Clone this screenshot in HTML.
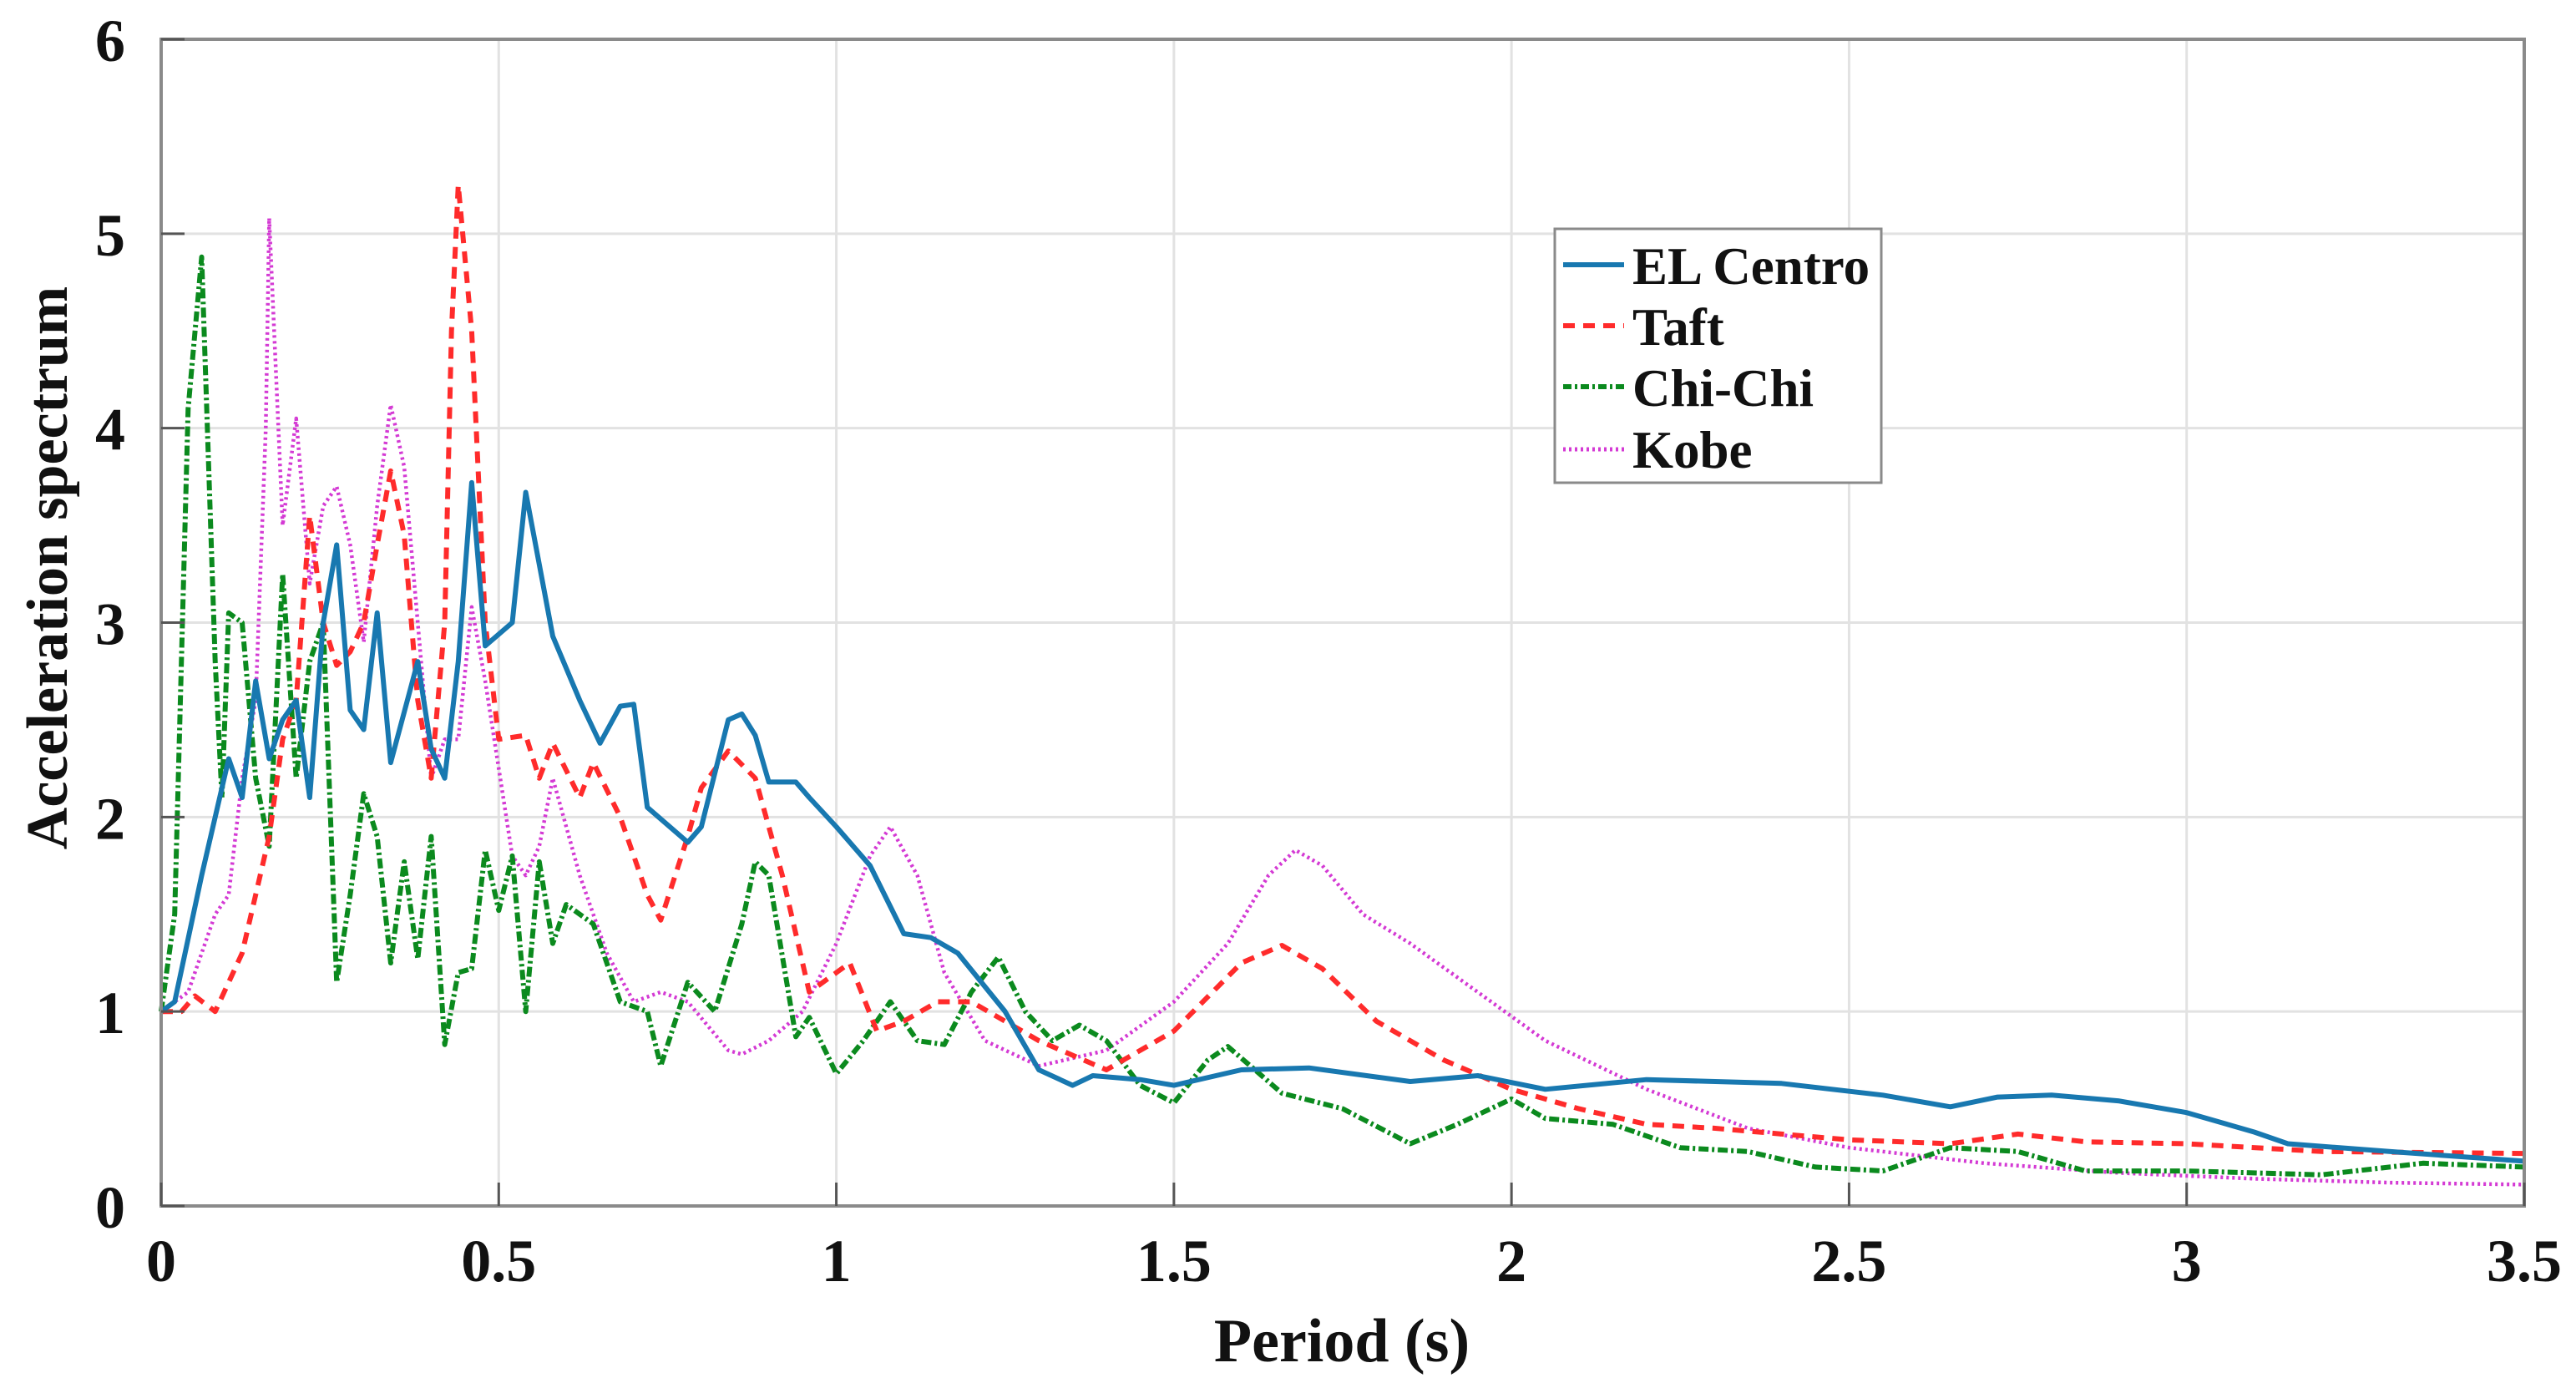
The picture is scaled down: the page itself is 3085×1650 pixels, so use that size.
<!DOCTYPE html>
<html><head><meta charset="utf-8"><style>
html,body{margin:0;padding:0;background:#fff}
svg{display:block}
text{font-family:"Liberation Serif",serif;font-weight:bold;fill:#111}
</style></head><body>
<svg id="chart" width="3085" height="1650" viewBox="0 0 3085 1650" xmlns="http://www.w3.org/2000/svg">
<g id="grid"></g>
<g id="series"></g>
<rect x="193" y="47" width="2830" height="1397" fill="none" stroke="#8a8a8a" stroke-width="4"/>
<g id="ticks"></g>
<text x="1607" y="1630" font-size="74" text-anchor="middle">Period (s)</text>
<text x="0" y="0" font-size="70" text-anchor="middle" transform="translate(80,680) rotate(-90)">Acceleration spectrum</text>
<g>
<rect x="1862" y="274" width="391" height="304" fill="#fff" stroke="#8a8a8a" stroke-width="3"/>
<line x1="1872" y1="317" x2="1945" y2="317" stroke="#1878b0" stroke-width="6"/>
<text x="1955" y="340" font-size="63">EL Centro</text>
<line x1="1872" y1="390" x2="1945" y2="390" stroke="#ff2b2b" stroke-width="6" stroke-dasharray="14,10"/>
<text x="1955" y="413" font-size="63">Taft</text>
<line x1="1872" y1="463" x2="1945" y2="463" stroke="#0b8a1e" stroke-width="6" stroke-dasharray="10,4,3,4"/>
<text x="1955" y="486" font-size="63">Chi-Chi</text>
<line x1="1872" y1="538" x2="1945" y2="538" stroke="#d43ad4" stroke-width="5" stroke-dasharray="3,4"/>
<text x="1955" y="560" font-size="63">Kobe</text>
</g>
</svg>
<script>
const xTicks=[0,0.5,1,1.5,2,2.5,3,3.5];
const xTickLabels=["0","0.5","1","1.5","2","2.5","3","3.5"];
const yTicks=[0,1,2,3,4,5,6];
const yTickLabels=["0","1","2","3","4","5","6"];
const elCentroT=[0,0.02,0.06,0.1,0.12,0.14,0.16,0.18,0.2,0.22,0.24,0.26,0.28,0.3,0.32,0.34,0.38,0.4,0.42,0.44,0.46,0.48,0.52,0.54,0.58,0.62,0.65,0.68,0.7,0.72,0.78,0.8,0.84,0.86,0.88,0.9,0.94,0.96,1.0,1.05,1.1,1.14,1.18,1.25,1.3,1.35,1.38,1.45,1.5,1.6,1.7,1.85,1.95,2.05,2.2,2.4,2.55,2.65,2.72,2.8,2.9,3.0,3.1,3.15,3.3,3.5];
const elCentroV=[1,1.05,1.7,2.3,2.1,2.7,2.3,2.5,2.6,2.1,3.0,3.4,2.55,2.45,3.05,2.28,2.8,2.35,2.2,2.8,3.72,2.88,3.0,3.67,2.93,2.6,2.38,2.57,2.58,2.05,1.87,1.95,2.5,2.53,2.42,2.18,2.18,2.1,1.95,1.75,1.4,1.38,1.3,1.0,0.7,0.62,0.67,0.65,0.62,0.7,0.71,0.64,0.67,0.6,0.65,0.63,0.57,0.51,0.56,0.57,0.54,0.48,0.38,0.32,0.28,0.23];
const taftT=[0,0.03,0.05,0.08,0.12,0.16,0.18,0.2,0.22,0.24,0.26,0.28,0.3,0.32,0.34,0.36,0.38,0.4,0.42,0.43,0.44,0.46,0.48,0.5,0.54,0.56,0.58,0.62,0.64,0.68,0.72,0.74,0.78,0.8,0.84,0.88,0.92,0.96,1.0,1.02,1.06,1.1,1.15,1.2,1.3,1.4,1.5,1.6,1.66,1.72,1.8,1.9,2.0,2.1,2.2,2.3,2.5,2.65,2.75,2.85,3.0,3.2,3.5];
const taftV=[1,1.0,1.08,1.0,1.3,1.9,2.4,2.6,3.55,3.0,2.78,2.85,3.0,3.4,3.78,3.45,2.6,2.2,3.0,4.5,5.25,4.5,3.0,2.4,2.42,2.2,2.38,2.1,2.28,2.0,1.6,1.47,1.9,2.15,2.34,2.2,1.7,1.1,1.2,1.25,0.9,0.95,1.05,1.05,0.85,0.7,0.9,1.25,1.34,1.22,0.95,0.75,0.6,0.5,0.42,0.4,0.34,0.32,0.37,0.33,0.32,0.28,0.27];
const chiChiT=[0,0.02,0.04,0.06,0.08,0.09,0.1,0.12,0.14,0.16,0.18,0.2,0.22,0.24,0.26,0.28,0.3,0.32,0.34,0.36,0.38,0.4,0.42,0.44,0.46,0.48,0.5,0.52,0.54,0.56,0.58,0.6,0.64,0.68,0.72,0.74,0.78,0.82,0.86,0.88,0.9,0.94,0.96,1.0,1.04,1.08,1.12,1.16,1.2,1.24,1.28,1.32,1.36,1.4,1.45,1.5,1.55,1.58,1.62,1.66,1.75,1.85,1.92,2.0,2.05,2.15,2.25,2.35,2.45,2.55,2.65,2.75,2.85,3.0,3.2,3.35,3.5];
const chiChiV=[1.0,1.5,4.1,4.88,2.8,2.1,3.05,3.0,2.2,1.85,3.25,2.2,2.8,3.0,1.15,1.6,2.12,1.9,1.25,1.77,1.27,1.9,0.83,1.2,1.22,1.83,1.52,1.8,1.0,1.77,1.35,1.55,1.45,1.05,1.0,0.72,1.15,1.0,1.45,1.77,1.7,0.87,0.97,0.68,0.85,1.05,0.85,0.83,1.1,1.28,1.0,0.85,0.93,0.85,0.62,0.53,0.75,0.82,0.7,0.58,0.5,0.32,0.42,0.55,0.45,0.42,0.3,0.28,0.2,0.18,0.3,0.28,0.18,0.18,0.16,0.22,0.2];
const kobeT=[0,0.04,0.08,0.1,0.12,0.14,0.155,0.16,0.18,0.2,0.22,0.24,0.26,0.28,0.3,0.32,0.34,0.36,0.38,0.4,0.42,0.44,0.46,0.48,0.5,0.52,0.54,0.56,0.58,0.62,0.66,0.7,0.74,0.78,0.84,0.86,0.9,0.95,1.0,1.05,1.08,1.12,1.16,1.22,1.3,1.4,1.5,1.58,1.64,1.68,1.72,1.78,1.85,1.95,2.05,2.2,2.35,2.5,2.7,2.9,3.1,3.3,3.5];
const kobeV=[1,1.1,1.5,1.6,2.2,2.6,4.0,5.08,3.5,4.05,3.2,3.6,3.7,3.4,2.9,3.6,4.12,3.8,3.0,2.2,2.4,2.4,3.08,2.7,2.25,1.8,1.7,1.85,2.2,1.7,1.3,1.05,1.1,1.05,0.8,0.78,0.85,1.0,1.35,1.8,1.95,1.7,1.2,0.85,0.72,0.8,1.05,1.35,1.7,1.83,1.75,1.5,1.35,1.1,0.85,0.6,0.4,0.3,0.22,0.17,0.14,0.12,0.11];

const NS='http://www.w3.org/2000/svg';
const X0=193,X1=3023,Y0=1444,Y1=47;
function xs(v){return X0+(v/3.5)*(X1-X0);}
function ys(v){return Y0-(v/6)*(Y0-Y1);}
const grid=document.getElementById('grid'),ticks=document.getElementById('ticks'),series=document.getElementById('series');
function mk(tag,attrs,parent){const e=document.createElementNS(NS,tag);for(const k in attrs)e.setAttribute(k,attrs[k]);parent.appendChild(e);return e;}
xTicks.forEach((t,i)=>{
  const g=mk('line',{x1:xs(t),x2:xs(t),y1:Y1,y2:Y0,stroke:'#e2e2e2','stroke-width':3},grid);
  
  
  const tk=mk('line',{x1:xs(t),x2:xs(t),y1:Y0,y2:Y0-28,stroke:'#555','stroke-width':3},ticks);
  
  
  const tx=mk('text',{x:xs(t),y:1534,'font-size':72,'text-anchor':'middle'},ticks);
  tx.textContent=xTickLabels[i];
  
  
});
yTicks.forEach((t,i)=>{
  const g=mk('line',{x1:X0,x2:X1,y1:ys(t),y2:ys(t),stroke:'#e2e2e2','stroke-width':3},grid);
  
  
  const tk=mk('line',{x1:X0,x2:X0+28,y1:ys(t),y2:ys(t),stroke:'#555','stroke-width':3},ticks);
  
  
  const tx=mk('text',{x:150,y:ys(t)+26,'font-size':72,'text-anchor':'end'},ticks);
  tx.textContent=yTickLabels[i];
  
  
});
function line(T,V,color,dash,w,name){
  const d=T.map((t,i)=>(i?'L':'M')+xs(t).toFixed(1)+' '+ys(V[i]).toFixed(1)).join(' ');
  const p=mk('path',{d:d,fill:'none',stroke:color,'stroke-width':w,'stroke-linejoin':'round'},series);
  if(dash)p.setAttribute('stroke-dasharray',dash);
  
  
}
line(kobeT,kobeV,'#d43ad4','3,4',4.5,'kobe-line');
line(chiChiT,chiChiV,'#0b8a1e','12,4,3,4',6,'chi-chi-line');
line(taftT,taftV,'#ff2b2b','14,10',6,'taft-line');
line(elCentroT,elCentroV,'#1878b0',null,6,'el-centro-line');
</script>
</body></html>
